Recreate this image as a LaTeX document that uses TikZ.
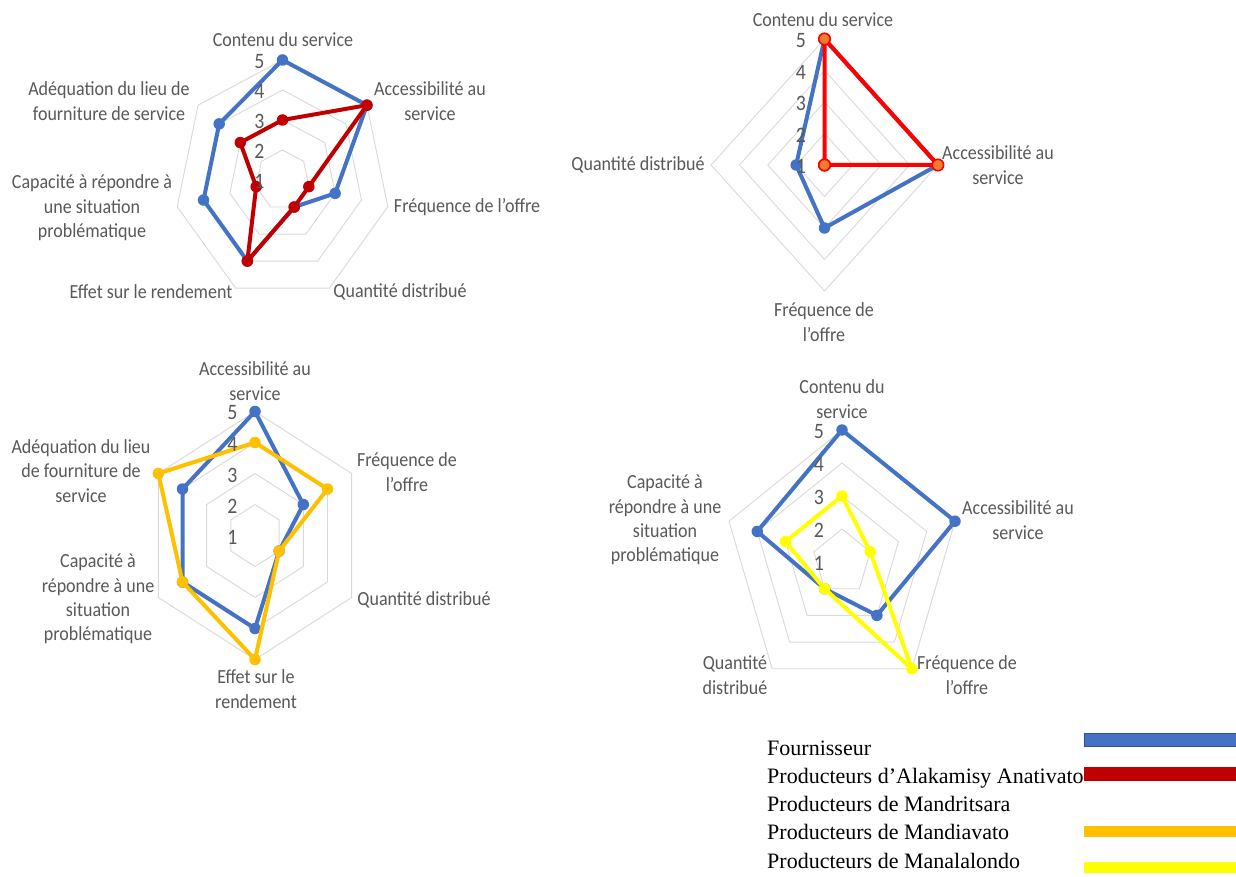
\documentclass[tikz,border=0pt]{standalone}
\usepackage{fontspec}
\newfontfamily\carl[FakeStretch=0.9]{Carlito}
\newfontfamily\tnr{Liberation Serif}
\definecolor{labgray}{HTML}{595959}
\definecolor{ringgray}{HTML}{D9D9D9}
\definecolor{fblue}{HTML}{4472C4}
\definecolor{fblueedge}{HTML}{2F528F}
\definecolor{dred}{HTML}{C00000}
\definecolor{bred}{HTML}{FF0000}
\definecolor{morange}{HTML}{ED7D31}
\definecolor{gold}{HTML}{FFC000}
\definecolor{yel}{HTML}{FFFF00}

% concentric polygons of a radar chart with #1 axes
\newcommand\chartgrid[1]{%
  \foreach \k in {1,...,4}{%
    \draw[ring] (90:\k) \foreach \i in {1,...,#1}{ -- ({90-\i*360/#1}:\k)} -- cycle;}}
% one data series: #1 prefix, #2 number of axes, #3 radii (value-1), #4 line style, #5 marker style
\newcommand\chartseries[5]{%
  \pgfmathtruncatemacro\lastidx{#2-1}%
  \foreach[count=\i from 0] \r in {#3}{\coordinate (#1-\i) at ({90-\i*360/#2}:\r);}
  \draw[serie,#4] (#1-0) \foreach \i in {1,...,\lastidx}{ -- (#1-\i)} -- cycle;
  \foreach \i in {0,...,\lastidx}{\node[dot,#5] at (#1-\i) {};}}

\begin{document}
\begin{tikzpicture}[x=1pt,y=-1pt,
  ring/.style={draw=ringgray, line width=0.9pt},
  serie/.style={line width=4pt, line join=round, line cap=round},
  dot/.style={circle, inner sep=0pt, minimum size=11.5pt},
  lab/.style={font=\carl\fontsize{20}{24.4}\selectfont, text=labgray, align=center, inner sep=0pt},
  num/.style={font=\carl\fontsize{22}{24}\selectfont, text=labgray, inner sep=0pt},
  leg/.style={font=\tnr\fontsize{22}{26}\selectfont, text=black, anchor=base west, inner sep=0pt}]
\useasboundingbox (0,0) rectangle (1236,877);
\fill[white] (0,0) rectangle (1236,877);

% ---------- chart 1: seven axes ----------
\begin{scope}[shift={(282.5,180)}, x={(27pt,0pt)}, y={(0pt,30pt)}]
  \chartgrid{7}
  \chartseries{a}{7}{4,4,2,1,3,3,3}{fblue}{fill=fblue}
  \chartseries{b}{7}{2,4,1,1,3,1,2}{dred}{fill=dred}
\end{scope}
\foreach \v in {1,...,5} \node[num] at (259.5,{180-(\v-1)*30+1.5}) {\v};
\node[lab] (c1t) at (283,40) {Contenu du service};
\node[lab] (c1a) at (430,101) {Accessibilité au\\service};
\node[lab] (c1f) at (467,207) {Fréquence de l’offre};
\node[lab] (c1q) at (400,292) {Quantité distribué};
\node[lab] (c1e) at (151,292) {Effet sur le rendement};
\node[lab] (c1c) at (92,208) {Capacité à répondre à\\une situation\\problématique};
\node[lab] (c1d) at (109,101) {Adéquation du lieu de\\fourniture de service};

% ---------- chart 2: four axes ----------
\begin{scope}[shift={(824.5,165)}, x={(28.35pt,0pt)}, y={(0pt,31.5pt)}]
  \chartgrid{4}
  \chartseries{c}{4}{4,4,2,1}{fblue}{fill=fblue}
  \chartseries{d}{4}{4,4,0,0}{bred}{fill=morange, draw=bred, line width=1.6pt}
\end{scope}
\foreach \v in {1,...,5} \node[num] at (801,{165-(\v-1)*31.5+1.5}) {\v};
\node[lab] (c2t) at (823,20) {Contenu du service};
\node[lab] (c2a) at (998,165) {Accessibilité au\\service};
\node[lab] (c2q) at (638,165) {Quantité distribué};
\node[lab] (c2f) at (824,322) {Fréquence de\\l’offre};

% ---------- chart 3: six axes ----------
\begin{scope}[shift={(255,535.5)}, x={(27.9pt,0pt)}, y={(0pt,31pt)}]
  \chartgrid{6}
  \chartseries{e}{6}{4,2,1,3,3,3}{fblue}{fill=fblue}
  \chartseries{f}{6}{3,3,1,4,3,4}{gold}{fill=gold}
\end{scope}
\foreach \v in {1,...,5} \node[num] at (232.3,{535.5-(\v-1)*31+1.5}) {\v};
\node[lab] (c3a) at (255,381) {Accessibilité au\\service};
\node[lab] (c3f) at (407,472) {Fréquence de\\l’offre};
\node[lab] (c3q) at (424,600) {Quantité distribué};
\node[lab] (c3e) at (256,689) {Effet sur le\\rendement};
\node[lab] (c3c) at (98,599) {Capacité à\\répondre à une\\situation\\problématique};
\node[lab] (c3d) at (81,471) {Adéquation du lieu\\de fourniture de\\service};

% ---------- chart 4: five axes ----------
\begin{scope}[shift={(842,562)}, x={(29.7pt,0pt)}, y={(0pt,33pt)}]
  \chartgrid{5}
  \chartseries{g}{5}{4,4,2,1,3}{fblue}{fill=fblue}
  \chartseries{h}{5}{2,1,4,1,2}{yel}{fill=yel}
\end{scope}
\foreach \v in {1,...,5} \node[num] at (819,{562-(\v-1)*33+1.5}) {\v};
\node[lab] (c4t) at (842,399) {Contenu du\\service};
\node[lab] (c4a) at (1018,520) {Accessibilité au\\service};
\node[lab] (c4f) at (967,675) {Fréquence de\\l’offre};
\node[lab] (c4q) at (735,675) {Quantité\\distribué};
\node[lab] (c4c) at (665,520) {Capacité à\\répondre à une\\situation\\problématique};

% ---------- legend ----------
\node[leg] (l1) at (767,755) {Fournisseur};
\node[leg] (l2) at (767,783.3) {Producteurs d’Alakamisy Anativato};
\node[leg] (l3) at (767,811.6) {Producteurs de Mandritsara};
\node[leg] (l4) at (767,839.9) {Producteurs de Mandiavato};
\node[leg] (l5) at (767,868.2) {Producteurs de Manalalondo};
\filldraw[fill=fblue, draw=fblueedge, line width=0.8pt] (1084.4,733) rectangle (1237,746.5);
\fill[dred] (1084,766.7) rectangle (1236,781);
\fill[gold] (1084,825.7) rectangle (1236,837.3);
\fill[yel] (1084,861.7) rectangle (1236,872.7);
\end{tikzpicture}
\end{document}
